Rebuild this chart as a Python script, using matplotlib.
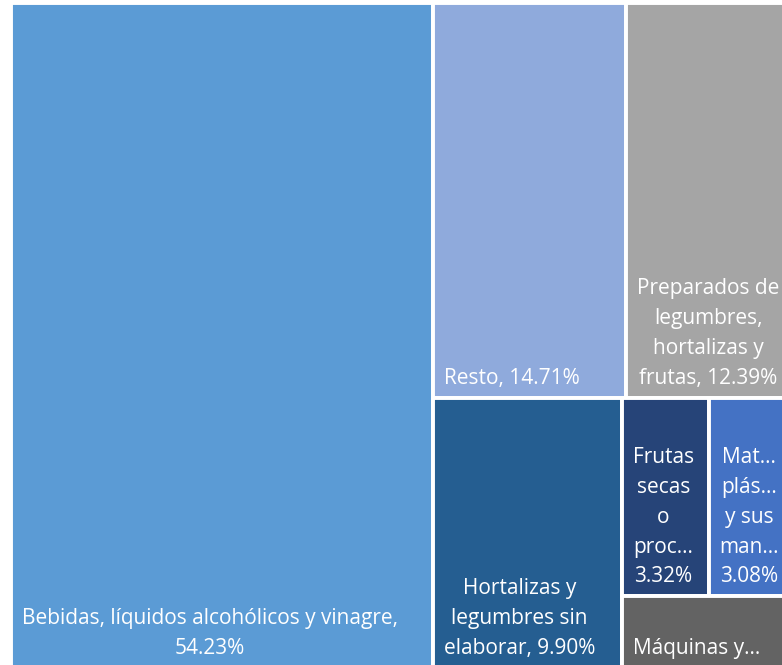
import matplotlib
matplotlib.use('Agg')
import matplotlib.pyplot as plt
from matplotlib.patches import Rectangle

# data
labels = ['Bebidas, líquidos alcohólicos y vinagre,\n54.23%',
          'Resto, 14.71%',
          'Preparados de\nlegumbres,\nhortalizas y\nfrutas, 12.39%',
          'Hortalizas y\nlegumbres sin\nelaborar, 9.90%',
          'Frutas\nsecas\no\nproc…\n3.32%',
          'Mat…\nplás…\ny sus\nman…\n3.08%',
          'Máquinas y…']
values = [54.23, 14.71, 12.39, 9.90, 3.32, 3.08, 2.37]
colors = ['#5B9BD5', '#8FAADC', '#A5A5A5', '#255E91', '#264478', '#4472C4', '#636363']

# split order as excel laid it out: (direction, first group, second group)
layout = ('h', [0], ('v', ('h', [1], [2]), ('h', [3], ('v', ('h', [4], [5]), [6]))))


def members(node):
    if isinstance(node, list):
        return node
    return members(node[1]) + members(node[2])


def place(node, x, y, w, h, out):
    if isinstance(node, list):
        out[node[0]] = (x, y, w, h)
        return
    d, a, b = node
    fa = sum(values[i] for i in members(a)) / sum(values[i] for i in members(node))
    if d == 'h':
        place(a, x, y, w * fa, h, out)
        place(b, x + w * fa, y, w * (1 - fa), h, out)
    else:
        place(a, x, y, w, h * fa, out)
        place(b, x, y + h * fa, w, h * (1 - fa), out)


rects = {}
place(layout, 11, 3, 778, 667, rects)

fig = plt.figure(figsize=(7.82, 6.65), dpi=100)
ax = fig.add_axes([0, 0, 1, 1])
ax.set_xlim(0, 782)
ax.set_ylim(665, 0)
ax.axis('off')

for i, (x, y, w, h) in rects.items():
    ax.add_patch(Rectangle((x, y), w, h, facecolor=colors[i], edgecolor='white', lw=2.8))
    ax.text(x + 11, min(y + h, 668) - 9, labels[i], color='white',
            ha='left', va='bottom', multialignment='center',
            fontsize=15, family='Open Sans', linespacing=1.56)

fig.savefig('out.png', dpi=100, facecolor='white')
